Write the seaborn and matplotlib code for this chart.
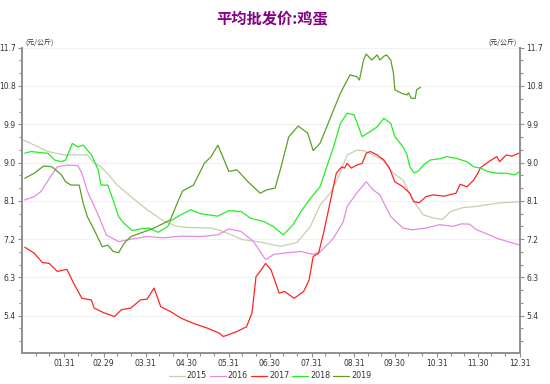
import numpy as np
import pandas as pd
import matplotlib
matplotlib.use("Agg")
import matplotlib.pyplot as plt
import seaborn as sns

# ---------------- data (day of year, price 元/公斤) ----------------
days_2015 = [1, 19, 31, 48, 52, 58, 64, 70, 80, 92, 104, 112, 117, 124, 139, 146, 151, 162, 177, 190, 202, 212, 219, 227, 233, 239, 246, 251, 258, 265, 273, 280, 287, 295, 302, 309, 315, 324, 334, 342, 351, 366]
vals_2015 = [9.53, 9.26, 9.18, 9.18, 9.02, 8.90, 8.70, 8.47, 8.20, 7.89, 7.63, 7.52, 7.49, 7.47, 7.46, 7.40, 7.34, 7.19, 7.12, 7.03, 7.12, 7.50, 8.00, 8.30, 8.70, 9.18, 9.29, 9.28, 9.18, 9.06, 8.75, 8.59, 8.12, 7.77, 7.70, 7.66, 7.85, 7.94, 7.97, 8.01, 8.05, 8.08]

days_2016 = [2, 9, 14, 21, 26, 33, 41, 44, 48, 56, 62, 71, 80, 92, 104, 117, 131, 144, 152, 161, 170, 175, 179, 185, 195, 205, 214, 219, 226, 229, 236, 239, 246, 253, 258, 263, 271, 280, 287, 297, 307, 317, 323, 329, 334, 342, 349, 356, 366]
vals_2016 = [8.12, 8.20, 8.32, 8.67, 8.90, 8.94, 8.93, 8.75, 8.33, 7.77, 7.30, 7.14, 7.20, 7.26, 7.23, 7.27, 7.26, 7.30, 7.44, 7.38, 7.15, 6.91, 6.72, 6.84, 6.88, 6.91, 6.84, 6.90, 7.12, 7.23, 7.60, 7.97, 8.28, 8.55, 8.36, 8.24, 7.73, 7.46, 7.42, 7.46, 7.54, 7.50, 7.56, 7.55, 7.42, 7.32, 7.22, 7.15, 7.06]

days_2017 = [2, 9, 15, 20, 26, 33, 38, 44, 51, 53, 60, 68, 73, 80, 87, 92, 97, 102, 109, 117, 126, 136, 145, 148, 158, 165, 169, 172, 175, 179, 183, 189, 193, 200, 207, 211, 214, 218, 222, 226, 231, 235, 237, 239, 242, 246, 250, 253, 256, 261, 266, 270, 274, 280, 285, 288, 292, 297, 302, 310, 314, 319, 322, 327, 332, 335, 337, 343, 349, 351, 356, 360, 366]
vals_2017 = [7.01, 6.87, 6.65, 6.63, 6.44, 6.49, 6.16, 5.81, 5.77, 5.58, 5.47, 5.38, 5.54, 5.58, 5.77, 5.79, 6.05, 5.61, 5.50, 5.34, 5.22, 5.11, 4.99, 4.91, 5.03, 5.14, 5.46, 6.32, 6.44, 6.63, 6.48, 5.93, 5.97, 5.81, 5.97, 6.24, 6.79, 6.87, 7.40, 8.00, 8.75, 8.90, 8.87, 8.98, 8.87, 8.94, 8.98, 9.22, 9.26, 9.18, 9.06, 8.87, 8.55, 8.43, 8.28, 8.08, 8.06, 8.20, 8.24, 8.21, 8.24, 8.28, 8.49, 8.43, 8.59, 8.75, 8.88, 9.02, 9.14, 9.02, 9.18, 9.15, 9.23]

days_2018 = [2, 7, 14, 19, 24, 29, 32, 37, 41, 45, 51, 56, 58, 63, 67, 71, 75, 81, 87, 93, 100, 107, 109, 117, 124, 131, 144, 152, 161, 168, 178, 185, 192, 199, 205, 212, 219, 229, 234, 239, 244, 246, 250, 256, 261, 266, 271, 274, 280, 283, 285, 288, 291, 295, 300, 307, 312, 319, 327, 332, 337, 342, 349, 356, 362, 366]
vals_2018 = [9.22, 9.26, 9.23, 9.22, 9.06, 9.02, 9.06, 9.45, 9.37, 9.41, 9.18, 8.83, 8.47, 8.47, 8.12, 7.73, 7.57, 7.40, 7.44, 7.46, 7.36, 7.49, 7.62, 7.78, 7.89, 7.80, 7.74, 7.87, 7.85, 7.69, 7.61, 7.49, 7.30, 7.53, 7.85, 8.16, 8.43, 9.37, 9.92, 10.16, 10.12, 9.96, 9.61, 9.73, 9.84, 10.04, 9.92, 9.61, 9.37, 9.18, 8.90, 8.76, 8.79, 8.94, 9.06, 9.09, 9.14, 9.10, 9.02, 8.90, 8.87, 8.79, 8.75, 8.75, 8.71, 8.79]

days_2019 = [2, 9, 16, 22, 29, 32, 36, 42, 45, 48, 53, 59, 63, 67, 71, 75, 80, 87, 97, 104, 109, 114, 118, 126, 134, 139, 144, 147, 152, 158, 166, 175, 180, 186, 190, 196, 203, 210, 214, 219, 224, 227, 234, 241, 246, 248, 251, 253, 257, 261, 263, 266, 268, 271, 273, 274, 279, 283, 284, 286, 289, 290, 293]
vals_2019 = [8.63, 8.75, 8.92, 8.90, 8.71, 8.55, 8.47, 8.47, 8.04, 7.73, 7.42, 7.02, 7.06, 6.91, 6.88, 7.10, 7.26, 7.34, 7.46, 7.57, 7.65, 8.04, 8.33, 8.47, 8.98, 9.14, 9.41, 9.18, 8.79, 8.83, 8.55, 8.28, 8.36, 8.40, 8.85, 9.60, 9.86, 9.69, 9.28, 9.45, 9.84, 10.08, 10.63, 11.06, 11.02, 10.94, 11.41, 11.55, 11.41, 11.53, 11.41, 11.50, 11.53, 11.41, 11.10, 10.71, 10.63, 10.59, 10.64, 10.51, 10.51, 10.71, 10.77]

years = ["2015", "2016", "2017", "2018", "2019"]
colors = ["#c9cdb0", "#e58be0", "#ff2424", "#22ee22", "#5aa025"]

month_end_days = [31, 60, 91, 121, 152, 182, 213, 244, 274, 305, 335, 366]
month_end_labels = ["01.31", "02.29", "03.31", "04.30", "05.31", "06.30",
                    "07.31", "08.31", "09.30", "10.31", "11.30", "12.31"]
y_ticks = [5.4, 6.3, 7.2, 8.1, 9.0, 9.9, 10.8, 11.7]
unit_label = "(元/公斤)"
title_text = "平均批发价:鸡蛋"

# ---------------- build long table ----------------
series = {"2015": (days_2015, vals_2015), "2016": (days_2016, vals_2016),
          "2017": (days_2017, vals_2017), "2018": (days_2018, vals_2018),
          "2019": (days_2019, vals_2019)}
frames = []
for y in years:
    d, v = series[y]
    frames.append(pd.DataFrame({"day": d, "price": v, "year": y}))
df = pd.concat(frames, ignore_index=True)

sns.set_theme(style="white")
plt.rcParams["font.family"] = ["DejaVu Sans", "Noto Sans CJK SC"]

fig = plt.figure(figsize=(5.5, 3.84), dpi=100)
ax = fig.add_axes([22 / 550, 1 - 352.7 / 384, (520 - 22) / 550, (352.7 - 47.7) / 384])

sns.lineplot(data=df, x="day", y="price", hue="year", hue_order=years,
             palette=dict(zip(years, colors)), estimator=None, sort=True,
             linewidth=0.9, ax=ax, legend=True)

ax.set_xlim(0, 366)
ax.set_ylim(4.53, 11.7)
ax.set_xlabel("")
ax.set_ylabel("")

ax.set_xticks(month_end_days)
ax.set_xticklabels(month_end_labels)
month_starts = [0, 31, 60, 91, 121, 152, 182, 213, 244, 274, 305, 335]
ax.set_xticks([m + k for m in month_starts for k in (10, 20)], minor=True)
ax.set_yticks(y_ticks)
ax.set_yticklabels([f"{t:.1f}" for t in y_ticks])
ax.set_yticks(np.arange(4.8, 11.71, 0.3), minor=True)

ax.yaxis.grid(True, which="major", color="#f1f1f1", linewidth=0.8)
ax.xaxis.grid(False)

spine_c = "#8f8f8f"
for s in ["left", "right", "bottom"]:
    ax.spines[s].set_visible(True)
    ax.spines[s].set_color(spine_c)
    ax.spines[s].set_linewidth(1.4)
ax.spines["top"].set_visible(False)

ax.tick_params(axis="both", which="major", direction="out", length=3, width=0.8,
               color=spine_c, labelsize=5.5, labelcolor="#333333", pad=1.5)
ax.tick_params(axis="both", which="minor", direction="out", length=2, width=0.8,
               color=spine_c)
ax.tick_params(axis="y", which="both", left=True, right=True, labelleft=True, labelright=True)
ax.tick_params(axis="x", which="both", bottom=True, top=False)

# unit labels
ax.text(0.006, 1.005, unit_label, transform=ax.transAxes, ha="left", va="bottom",
        fontsize=5, color="#333333", family=["Noto Sans CJK SC", "DejaVu Sans"])
ax.text(0.994, 1.005, unit_label, transform=ax.transAxes, ha="right", va="bottom",
        fontsize=5, color="#333333", family=["Noto Sans CJK SC", "DejaVu Sans"])

fig.text(272 / 550, 1 - 19 / 384, title_text, ha="center", va="center",
         fontsize=11, fontweight="bold", color="#840084",
         family=["Noto Sans CJK SC", "DejaVu Sans"])

leg = ax.legend(loc="center", bbox_to_anchor=(270 / 550, 1 - 376 / 384),
                bbox_transform=fig.transFigure, ncol=5, frameon=False,
                fontsize=5.8, handlelength=2.0, handletextpad=0.25, columnspacing=0.35,
                borderpad=0.1)
for t in leg.get_texts():
    t.set_color("#333333")

fig.savefig("out.png", dpi=100)
